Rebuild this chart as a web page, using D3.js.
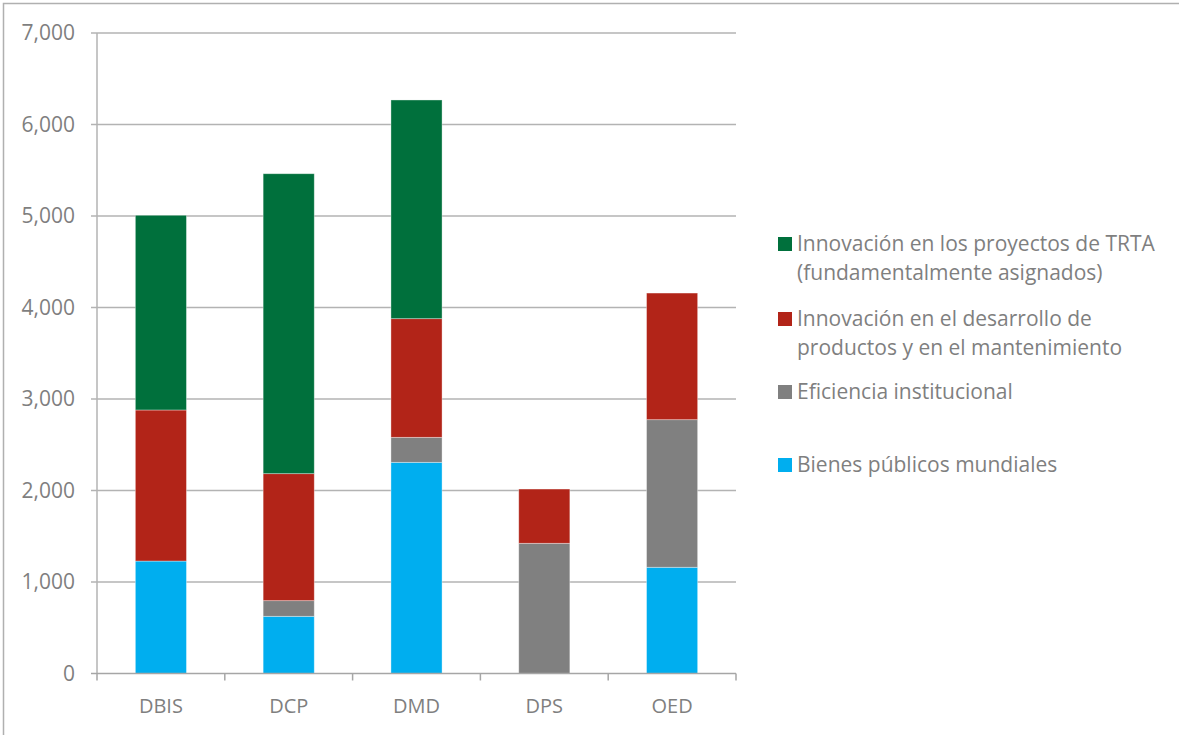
<!DOCTYPE html>
<html>
<head>
<meta charset="utf-8">
<script src="https://cdn.jsdelivr.net/npm/d3@7"></script>
<style>
  html, body { margin: 0; padding: 0; background: #fff; }
  svg { display: block; }
  text { font-family: "Open Sans", "Noto Sans", sans-serif; fill: #7f7f7f; }
</style>
</head>
<body>
<svg id="chart" width="1179" height="735"></svg>
<script>
// Departments along the x axis
const categories = ["DBIS", "DCP", "DMD", "DPS", "OED"];

// Series, stacked bottom to top
const seriesNames = [
  "Bienes públicos mundiales",
  "Eficiencia institucional",
  "Innovación en el desarrollo de productos y en el mantenimiento",
  "Innovación en los proyectos de TRTA (fundamentalmente asignados)"
];
const bienesPublicos   = [1229, 625, 2308, 0, 1161];
const eficiencia       = [0, 171, 273, 1423, 1613];
const innovDesarrollo  = [1651, 1388, 1297, 593, 1384];
const innovTRTA        = [2128, 3278, 2390, 0, 0];

const seriesColors = ["#00aeef", "#808080", "#b22418", "#00703c"];

// Y axis ticks
const yTicks = [0, 1000, 2000, 3000, 4000, 5000, 6000, 7000];

// Legend entries (top to bottom), with their wrapped lines
const legendItems = [
  { series: 3, lines: ["Innovación en los proyectos de TRTA", "(fundamentalmente asignados)"] },
  { series: 2, lines: ["Innovación en el desarrollo de", "productos y en el mantenimiento"] },
  { series: 1, lines: ["Eficiencia institucional"] },
  { series: 0, lines: ["Bienes públicos mundiales"] }
];

const svg = d3.select("#chart");

// Outer chart frame
svg.append("rect")
  .attr("x", 3.5).attr("y", 3.5)
  .attr("width", 1200).attr("height", 800)
  .attr("fill", "none").attr("stroke", "#b0b0b0").attr("stroke-width", 1.5);

const plot = { left: 97, right: 736, top: 33, bottom: 673.5 };

const x = d3.scaleBand()
  .domain(categories)
  .range([plot.left, plot.right])
  .paddingInner(0.6).paddingOuter(0.3);

const y = d3.scaleLinear()
  .domain([0, 7000])
  .range([plot.bottom, plot.top]);

// Horizontal gridlines
svg.append("g")
  .selectAll("line")
  .data(yTicks.filter(d => d > 0))
  .join("line")
  .attr("x1", plot.left - 6).attr("x2", plot.right)
  .attr("y1", d => y(d)).attr("y2", d => y(d))
  .attr("stroke", "#b3b3b3").attr("stroke-width", 1.5);

// Y axis line and labels
svg.append("line")
  .attr("x1", plot.left).attr("x2", plot.left)
  .attr("y1", plot.top).attr("y2", plot.bottom)
  .attr("stroke", "#b3b3b3").attr("stroke-width", 1.5);

svg.append("g")
  .selectAll("text")
  .data(yTicks)
  .join("text")
  .attr("x", 75)
  .attr("y", d => y(d))
  .attr("dy", "0.35em")
  .attr("text-anchor", "end")
  .attr("font-size", 21)
  .text(d => d3.format(",")(d));

// Stacked bars
const table = categories.map((c, i) => ({
  cat: c, s0: bienesPublicos[i], s1: eficiencia[i], s2: innovDesarrollo[i], s3: innovTRTA[i]
}));
const stack = d3.stack().keys(["s0", "s1", "s2", "s3"]);
const layers = stack(table);

svg.append("g")
  .selectAll("g")
  .data(layers)
  .join("g")
  .attr("fill", (d, i) => seriesColors[i])
  .selectAll("rect")
  .data(d => d.filter(p => p[1] - p[0] > 0))
  .join("rect")
  .attr("x", d => x(d.data.cat))
  .attr("width", x.bandwidth())
  .attr("y", d => y(d[1]))
  .attr("height", d => y(d[0]) - y(d[1]))
  .attr("stroke", "rgba(255,255,255,0.45)")
  .attr("stroke-width", 0.8);

// X axis line, ticks and labels
svg.append("line")
  .attr("x1", plot.left - 6).attr("x2", plot.right)
  .attr("y1", plot.bottom).attr("y2", plot.bottom)
  .attr("stroke", "#a6a6a6").attr("stroke-width", 1.5);

const step = (plot.right - plot.left) / categories.length;
svg.append("g")
  .selectAll("line")
  .data(d3.range(categories.length + 1))
  .join("line")
  .attr("x1", i => plot.left + i * step).attr("x2", i => plot.left + i * step)
  .attr("y1", plot.bottom).attr("y2", plot.bottom + 7)
  .attr("stroke", "#a6a6a6").attr("stroke-width", 1.5);

svg.append("g")
  .selectAll("text")
  .data(categories)
  .join("text")
  .attr("x", d => x(d) + x.bandwidth() / 2)
  .attr("y", 706)
  .attr("dy", "0.35em")
  .attr("text-anchor", "middle")
  .attr("font-size", 20)
  .text(d => d);

// Legend
const legendY = [244, 319, 392, 465];
const legend = svg.append("g");
legendItems.forEach((item, k) => {
  const g = legend.append("g");
  g.append("rect")
    .attr("x", 778).attr("y", legendY[k] - 7)
    .attr("width", 14).attr("height", 14)
    .attr("fill", seriesColors[item.series]);
  item.lines.forEach((ln, j) => {
    g.append("text")
      .attr("x", 797)
      .attr("y", legendY[k] + j * 29)
      .attr("dy", "0.35em")
      .attr("font-size", 21)
      .text(ln);
  });
});
</script>
</body>
</html>
